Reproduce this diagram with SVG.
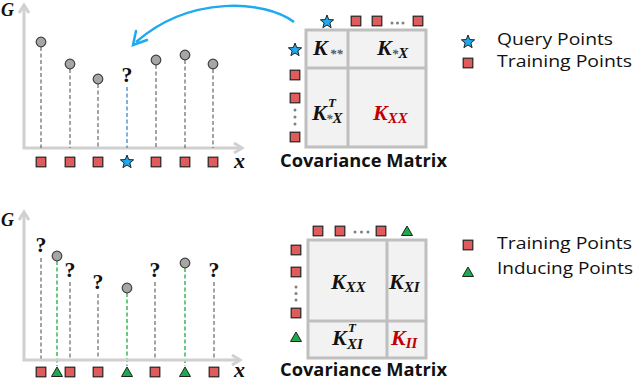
<svg xmlns="http://www.w3.org/2000/svg" xmlns:xlink="http://www.w3.org/1999/xlink" width="640" height="381" viewBox="0 0 640 381">
<style>
.axis{stroke:#d0d0d0;stroke-width:3;fill:none;stroke-linejoin:miter}
.dash{stroke:#595959;stroke-width:1.1;stroke-dasharray:4 2.5;fill:none}
.dashb{stroke:#4a8fd4;stroke-width:1.4;stroke-dasharray:4 2.5;fill:none}
.dashg{stroke:#2db34a;stroke-width:1.4;stroke-dasharray:4 2.5;fill:none}
.pt{fill:#a6a6a6;stroke:#404040;stroke-width:1.2}
.sq{fill:#e05c5c;stroke:#222;stroke-width:1.2}
.st{fill:#1eaaf1;stroke:#222;stroke-width:1}
.tr{fill:#1aab4c;stroke:#222;stroke-width:1}
.q{font-family:"Liberation Serif",serif;font-weight:bold;font-size:22px;fill:#111;text-anchor:middle}
.ax{font-family:"Liberation Serif",serif;font-weight:bold;font-style:italic;fill:#111}
.g{font-size:18px}
.xl{font-size:22px}
.mat{fill:#f2f2f2;stroke:#bfbfbf;stroke-width:3}
.div{stroke:#bfbfbf;stroke-width:3}
.k{font-family:"Liberation Serif",serif;font-weight:bold;font-style:italic;font-size:22px;fill:#111}
.kr{fill:#c00000}
.sub{font-size:15px}
.sup{font-size:13px}
.ast{font-size:13px;fill:#555}
.dot{fill:#808080}
.cap{font-family:"Open Sans",sans-serif;font-weight:bold;font-size:17px;fill:#111}
.leg{font-family:"Open Sans",sans-serif;font-size:16px;fill:#111}
</style>
<defs>
<rect id="sqr" x="-4.8" y="-4.8" width="9.6" height="9.6"/>
<path id="star" d="M0,-7 L1.76,-2.43 L6.66,-2.16 L2.85,0.93 L4.11,5.66 L0,3 L-4.11,5.66 L-2.85,0.93 L-6.66,-2.16 L-1.76,-2.43 Z"/>
<path id="tri" d="M0,-5 L5.5,4.5 L-5.5,4.5 Z"/>
</defs>

<!-- TOP PANEL -->
<g id="top-axes">
<polyline class="axis" points="24,5 24,148 242,148"/>
<polyline class="axis" points="19,13 24,5 29,13"/>
<polyline class="axis" points="234,143 242,148 234,153"/>
<text class="ax g" x="1" y="16">G</text>
<text class="ax xl" x="234" y="168">x</text>
</g>
<g id="connectors">
<line class="dash" x1="41" y1="47" x2="41" y2="148"/>
<line class="dash" x1="70" y1="69" x2="70" y2="148"/>
<line class="dash" x1="98" y1="84" x2="98" y2="148"/>
<line class="dashb" x1="127" y1="87" x2="127" y2="148"/>
<line class="dash" x1="156" y1="65" x2="156" y2="148"/>
<line class="dash" x1="185" y1="60" x2="185" y2="148"/>
<line class="dash" x1="213" y1="69" x2="213" y2="148"/>
<path d="M294,22 C265,0 190,-5 136,42" fill="none" stroke="#1eaaf1" stroke-width="2.5"/>
<polyline points="136,31 133,45 147,40" fill="none" stroke="#1eaaf1" stroke-width="2.5" stroke-linecap="round"/>
<line class="dash" x1="41" y1="258" x2="41" y2="360"/>
<line class="dashg" x1="57" y1="261" x2="57" y2="366"/>
<line class="dash" x1="70" y1="282" x2="70" y2="360"/>
<line class="dash" x1="98" y1="294" x2="98" y2="360"/>
<line class="dashg" x1="127" y1="293" x2="127" y2="366"/>
<line class="dash" x1="155" y1="282" x2="155" y2="360"/>
<line class="dashg" x1="185" y1="268" x2="185" y2="366"/>
<line class="dash" x1="214" y1="282" x2="214" y2="360"/>
</g>
<g id="top-points">
<circle class="pt" cx="41" cy="42" r="4.8"/>
<circle class="pt" cx="70" cy="64" r="4.8"/>
<circle class="pt" cx="98" cy="79" r="4.8"/>
<text class="q" x="127" y="82">?</text>
<circle class="pt" cx="156" cy="60" r="4.8"/>
<circle class="pt" cx="185" cy="55" r="4.8"/>
<circle class="pt" cx="213" cy="64" r="4.8"/>
</g>
<g id="top-xmarkers">
<use href="#sqr" class="sq" x="41" y="162"/>
<use href="#sqr" class="sq" x="70" y="162"/>
<use href="#sqr" class="sq" x="98" y="162"/>
<use href="#star" class="st" x="127" y="162"/>
<use href="#sqr" class="sq" x="156" y="162"/>
<use href="#sqr" class="sq" x="185" y="162"/>
<use href="#sqr" class="sq" x="213" y="162"/>
</g>
<g id="top-matrix">
<rect class="mat" x="306" y="30" width="120" height="117"/>
<line class="div" x1="348" y1="30" x2="348" y2="147"/>
<line class="div" x1="306" y1="68" x2="426" y2="68"/>
<text class="k" x="313" y="55">K<tspan class="ast" dx="2" dy="3">**</tspan></text>
<text class="k" x="377" y="55">K<tspan class="ast" dy="3">*</tspan><tspan class="sub">X</tspan></text>
<text class="k" x="312" y="120">K</text>
<text class="k sup" x="328" y="107">T</text>
<text class="k" x="326" y="123"><tspan class="ast">*</tspan><tspan class="sub">X</tspan></text>
<text class="k kr" x="373" y="120">K<tspan class="sub" dy="3">XX</tspan></text>
<use href="#star" class="st" x="327" y="22"/>
<use href="#sqr" class="sq" x="356" y="21"/>
<use href="#sqr" class="sq" x="377" y="21"/>
<circle class="dot" cx="392" cy="23" r="1.5"/><circle class="dot" cx="397.5" cy="23" r="1.5"/><circle class="dot" cx="403" cy="23" r="1.5"/>
<use href="#sqr" class="sq" x="418" y="21"/>
<use href="#star" class="st" x="295" y="50"/>
<use href="#sqr" class="sq" x="295" y="75"/>
<use href="#sqr" class="sq" x="295" y="98"/>
<circle class="dot" cx="295" cy="110" r="1.5"/><circle class="dot" cx="295" cy="117" r="1.5"/><circle class="dot" cx="295" cy="124" r="1.5"/>
<use href="#sqr" class="sq" x="295" y="137"/>
<text class="cap" x="280" y="167" textLength="167" lengthAdjust="spacingAndGlyphs">Covariance Matrix</text>
</g>
<g id="top-legend">
<use href="#star" class="st" x="468" y="42"/>
<text class="leg" x="497" y="45" textLength="116" lengthAdjust="spacingAndGlyphs">Query Points</text>
<use href="#sqr" class="sq" x="468" y="63"/>
<text class="leg" x="497" y="67" textLength="135" lengthAdjust="spacingAndGlyphs">Training Points</text>
</g>

<!-- BOTTOM PANEL -->
<g id="bottom-axes">
<polyline class="axis" points="24,212 24,360 240,360"/>
<polyline class="axis" points="19,220 24,212 29,220"/>
<polyline class="axis" points="232,355 240,360 232,365"/>
<text class="ax g" x="1" y="226">G</text>
<text class="ax xl" x="234" y="377">x</text>
</g>
<g id="bottom-points">
<text class="q" x="41" y="252">?</text>
<circle class="pt" cx="57" cy="256" r="4.8"/>
<text class="q" x="70" y="277">?</text>
<text class="q" x="98" y="289">?</text>
<circle class="pt" cx="127" cy="288" r="4.8"/>
<text class="q" x="155" y="277">?</text>
<circle class="pt" cx="185" cy="263" r="4.8"/>
<text class="q" x="214" y="277">?</text>
</g>
<g id="bottom-xmarkers">
<use href="#sqr" class="sq" x="41" y="372"/>
<use href="#tri" class="tr" x="57" y="372"/>
<use href="#sqr" class="sq" x="70" y="372"/>
<use href="#sqr" class="sq" x="98" y="372"/>
<use href="#tri" class="tr" x="127" y="372"/>
<use href="#sqr" class="sq" x="155" y="372"/>
<use href="#tri" class="tr" x="185" y="372"/>
<use href="#sqr" class="sq" x="214" y="372"/>
</g>
<g id="bottom-matrix">
<rect class="mat" x="308" y="240" width="118" height="118"/>
<line class="div" x1="387" y1="240" x2="387" y2="358"/>
<line class="div" x1="308" y1="321" x2="426" y2="321"/>
<text class="k" x="331" y="289">K<tspan class="sub" dy="3">XX</tspan></text>
<text class="k" x="389" y="289">K<tspan class="sub" dy="3">XI</tspan></text>
<text class="k" x="332" y="345">K</text>
<text class="k sup" x="348" y="332">T</text>
<text class="k sub" x="347" y="349">XI</text>
<text class="k kr" x="391" y="345">K<tspan class="sub" dy="3">II</tspan></text>
<use href="#sqr" class="sq" x="318" y="231"/>
<use href="#sqr" class="sq" x="340" y="231"/>
<circle class="dot" cx="355" cy="232" r="1.5"/><circle class="dot" cx="361.5" cy="232" r="1.5"/><circle class="dot" cx="368" cy="232" r="1.5"/>
<use href="#sqr" class="sq" x="381" y="231"/>
<use href="#tri" class="tr" x="407" y="231"/>
<use href="#sqr" class="sq" x="296" y="250"/>
<use href="#sqr" class="sq" x="296" y="272"/>
<circle class="dot" cx="296" cy="287" r="1.5"/><circle class="dot" cx="296" cy="293.5" r="1.5"/><circle class="dot" cx="296" cy="300" r="1.5"/>
<use href="#sqr" class="sq" x="296" y="313"/>
<use href="#tri" class="tr" x="296" y="337"/>
<text class="cap" x="280" y="376" textLength="167" lengthAdjust="spacingAndGlyphs">Covariance Matrix</text>
</g>
<g id="bottom-legend">
<use href="#sqr" class="sq" x="468" y="245"/>
<text class="leg" x="497" y="249" textLength="135" lengthAdjust="spacingAndGlyphs">Training Points</text>
<use href="#tri" class="tr" x="468" y="272"/>
<text class="leg" x="497" y="274" textLength="136" lengthAdjust="spacingAndGlyphs">Inducing Points</text>
</g>
</svg>
